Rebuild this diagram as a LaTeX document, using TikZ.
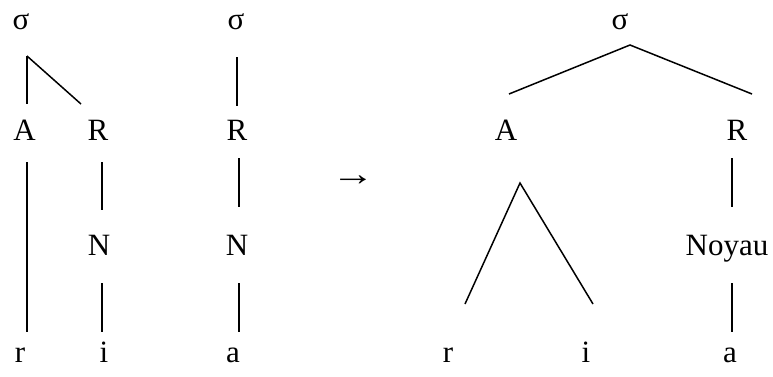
\documentclass[tikz,border=0pt]{standalone}
\usepackage{fontspec}
\setmainfont{Liberation Serif}
\begin{document}
\begin{tikzpicture}[x=1pt,y=-1pt,
  lab/.style={anchor=base,inner sep=0pt,font=\fontsize{31}{34}\selectfont},
  br/.style={line width=1.5pt}]
\useasboundingbox (0,0) rectangle (773,376);
% tree 1
\node[lab] (s1) at (21,29) {σ};
\node[lab] (A1) at (24.5,140) {A};
\node[lab] (R1) at (98,140) {R};
\node[lab] (N1) at (99,255) {N};
\node[lab] (r1) at (20,362) {r};
\node[lab] (i1) at (104,362) {i};
\coordinate (s1b) at (27,56);
\coordinate (A1t) at (27,104);
\coordinate (R1t) at (81,104);
\coordinate (A1b) at (27,162);
\coordinate (r1t) at (27,332);
\coordinate (R1b) at (102,162);
\coordinate (N1t) at (102,210);
\coordinate (N1b) at (102,283);
\coordinate (i1t) at (102,332);
\draw[br] (s1b) -- (A1t);
\draw[br] (s1b) -- (R1t);
\draw[br] (A1b) -- (r1t);
\draw[br] (R1b) -- (N1t);
\draw[br] (N1b) -- (i1t);
% tree 2
\node[lab] (s2) at (236,29) {σ};
\node[lab] (R2) at (237,140) {R};
\node[lab] (N2) at (237,255) {N};
\node[lab] (a2) at (233,362) {a};
\coordinate (s2b) at (237,57);
\coordinate (R2t) at (237,106);
\coordinate (R2b) at (239,158);
\coordinate (N2t) at (239,207);
\coordinate (N2b) at (239,283);
\coordinate (a2t) at (239,332);
\draw[br] (s2b) -- (R2t);
\draw[br] (R2b) -- (N2t);
\draw[br] (N2b) -- (a2t);
% arrow
\node[lab,anchor=center] (arr) at (353,181) {\scalebox{1.4}[1.1]{→}};
% tree 3
\node[lab] (s3) at (620,29) {σ};
\node[lab] (A3) at (506,140) {A};
\node[lab] (R3) at (737,140) {R};
\node[lab] (N3) at (727,255) {Noyau};
\node[lab] (r3) at (448,362) {r};
\node[lab] (i3) at (586,362) {i};
\node[lab] (a3) at (730,362) {a};
\coordinate (s3b) at (630,45);
\coordinate (A3t) at (509,94);
\coordinate (R3t) at (752,94);
\coordinate (apex) at (520,183);
\coordinate (r3t) at (465,304);
\coordinate (i3t) at (593,304);
\coordinate (R3b) at (732,158);
\coordinate (N3t) at (732,207);
\coordinate (N3b) at (732,283);
\coordinate (a3t) at (732,332);
\draw[br] (A3t) -- (s3b) -- (R3t);
\draw[br] (r3t) -- (apex) -- (i3t);
\draw[br] (R3b) -- (N3t);
\draw[br] (N3b) -- (a3t);
\end{tikzpicture}
\end{document}
